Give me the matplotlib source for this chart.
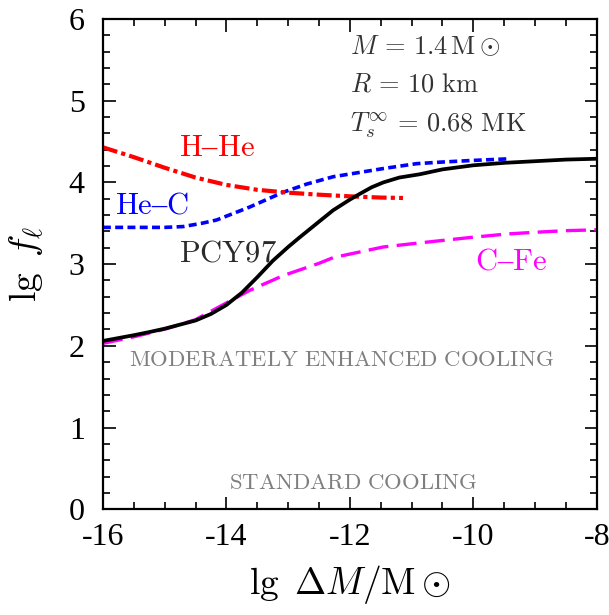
import matplotlib
matplotlib.use("Agg")
import matplotlib.pyplot as plt
from matplotlib.ticker import MultipleLocator

plt.rcParams['font.family'] = ['Liberation Serif', 'DejaVu Serif']
plt.rcParams['mathtext.fontset'] = 'cm'

# ---- data ----
x_pcy = [-16, -15.5, -15.24, -15, -14.5, -14.25, -14, -13.75, -13.5, -13.25, -13.0, -12.81, -12.5, -12.27, -12.0, -11.84, -11.65, -11.46, -11.2, -10.87, -10.5, -10, -9.5, -9, -8.5, -8]
y_pcy = [2.06, 2.13, 2.17, 2.21, 2.31, 2.39, 2.50, 2.65, 2.84, 3.04, 3.21, 3.33, 3.52, 3.66, 3.79, 3.86, 3.94, 4.0, 4.06, 4.10, 4.16, 4.21, 4.24, 4.26, 4.28, 4.29]

x_hec = [-16, -15.5, -15, -14.7, -14.4, -14.16, -13.62, -13.08, -12.7, -12.27, -11.46, -10.92, -10.5, -10, -9.4]
y_hec = [3.45, 3.45, 3.45, 3.46, 3.50, 3.54, 3.70, 3.88, 3.98, 4.07, 4.17, 4.23, 4.25, 4.27, 4.29]

x_hhe = [-16, -15.5, -15, -14.5, -14, -13.5, -13, -12.5, -12, -11.5, -11.14]
y_hhe = [4.43, 4.31, 4.18, 4.06, 3.97, 3.91, 3.875, 3.85, 3.83, 3.815, 3.81]

x_cfe = [-16, -15.5, -14.97, -14.5, -14.16, -13.62, -13.08, -12.5, -12.27, -11.46, -10.87, -10.5, -10, -9.44, -9, -8.5, -8]
y_cfe = [2.03, 2.11, 2.21, 2.32, 2.46, 2.68, 2.86, 3.01, 3.08, 3.21, 3.26, 3.29, 3.33, 3.37, 3.39, 3.41, 3.42]

xticks = [-16, -14, -12, -10, -8]
xticklabels = ['-16', '-14', '-12', '-10', '-8']
yticks = [0, 1, 2, 3, 4, 5, 6]
yticklabels = ['0', '1', '2', '3', '4', '5', '6']

fig = plt.figure(figsize=(6.09, 6.15), dpi=100)
ax = fig.add_axes([0.169, 0.172, 0.811, 0.797])

ax.plot(x_cfe, y_cfe, color='#ff00ff', lw=2.4, dashes=(6, 2.5), zorder=2)
ax.plot(x_pcy, y_pcy, color='black', lw=2.7, zorder=3)
ax.plot(x_hec, y_hec, color='#0000ff', lw=2.6, dashes=(2.2, 1.2), zorder=2)
ax.plot(x_hhe, y_hhe, color='#ff0000', lw=3.0, dashes=(3.6, 1.0, 1.0, 1.0), zorder=2)

ax.set_xlim(-16, -8)
ax.set_ylim(0, 6)
ax.set_xticks(xticks)
ax.set_xticklabels(xticklabels)
ax.set_yticks(yticks)
ax.set_yticklabels(yticklabels)
ax.xaxis.set_minor_locator(MultipleLocator(0.5))
ax.yaxis.set_minor_locator(MultipleLocator(0.2))
ax.tick_params(which='both', direction='in', top=True, right=True, width=1.2)
ax.tick_params(which='major', length=9, labelsize=23)
ax.tick_params(axis='x', which='major', pad=10)
ax.tick_params(axis='y', which='major', pad=13)
ax.tick_params(which='minor', length=5)
for s in ax.spines.values():
    s.set_linewidth(1.6)

ax.set_xlabel(r'$\lg\ \Delta M/\mathrm{M}\odot$', fontsize=27, labelpad=8)
ax.set_ylabel(r'$\lg\ f_\ell$', fontsize=27)
ax.yaxis.set_label_coords(-0.115, 0.5)

ax.text(-14.15, 4.42, r'$\mathrm{H}$–$\mathrm{He}$', color='#ff0000', fontsize=22, ha='center', va='center')
ax.text(-15.21, 3.71, r'$\mathrm{He}$–$\mathrm{C}$', color='#0000ff', fontsize=22, ha='center', va='center')
ax.text(-13.98, 3.12, r'$\mathrm{PCY97}$', color='#2a2a2a', fontsize=22, ha='center', va='center')
ax.text(-9.39, 3.03, r'$\mathrm{C}$–$\mathrm{Fe}$', color='#ff00ff', fontsize=22, ha='center', va='center')

ax.text(-12.13, 1.82, r'$\mathrm{MODERATELY\ ENHANCED\ COOLING}$', color='#7f7f7f', fontsize=16.4, ha='center', va='center')
ax.text(-11.94, 0.31, r'$\mathrm{STANDARD\ COOLING}$', color='#7f7f7f', fontsize=16.4, ha='center', va='center')

ax.text(-12.0, 5.66, r'$M\,=\,1.4\,\mathrm{M}\odot$', color='#333333', fontsize=19, ha='left', va='center')
ax.text(-12.0, 5.19, r'$R\,=\,10\ \mathrm{km}$', color='#333333', fontsize=19, ha='left', va='center')
ax.text(-12.0, 4.70, r'$T_s^\infty\,=\,0.68\ \mathrm{MK}$', color='#333333', fontsize=19, ha='left', va='center')

fig.savefig('out.png', dpi=100)
